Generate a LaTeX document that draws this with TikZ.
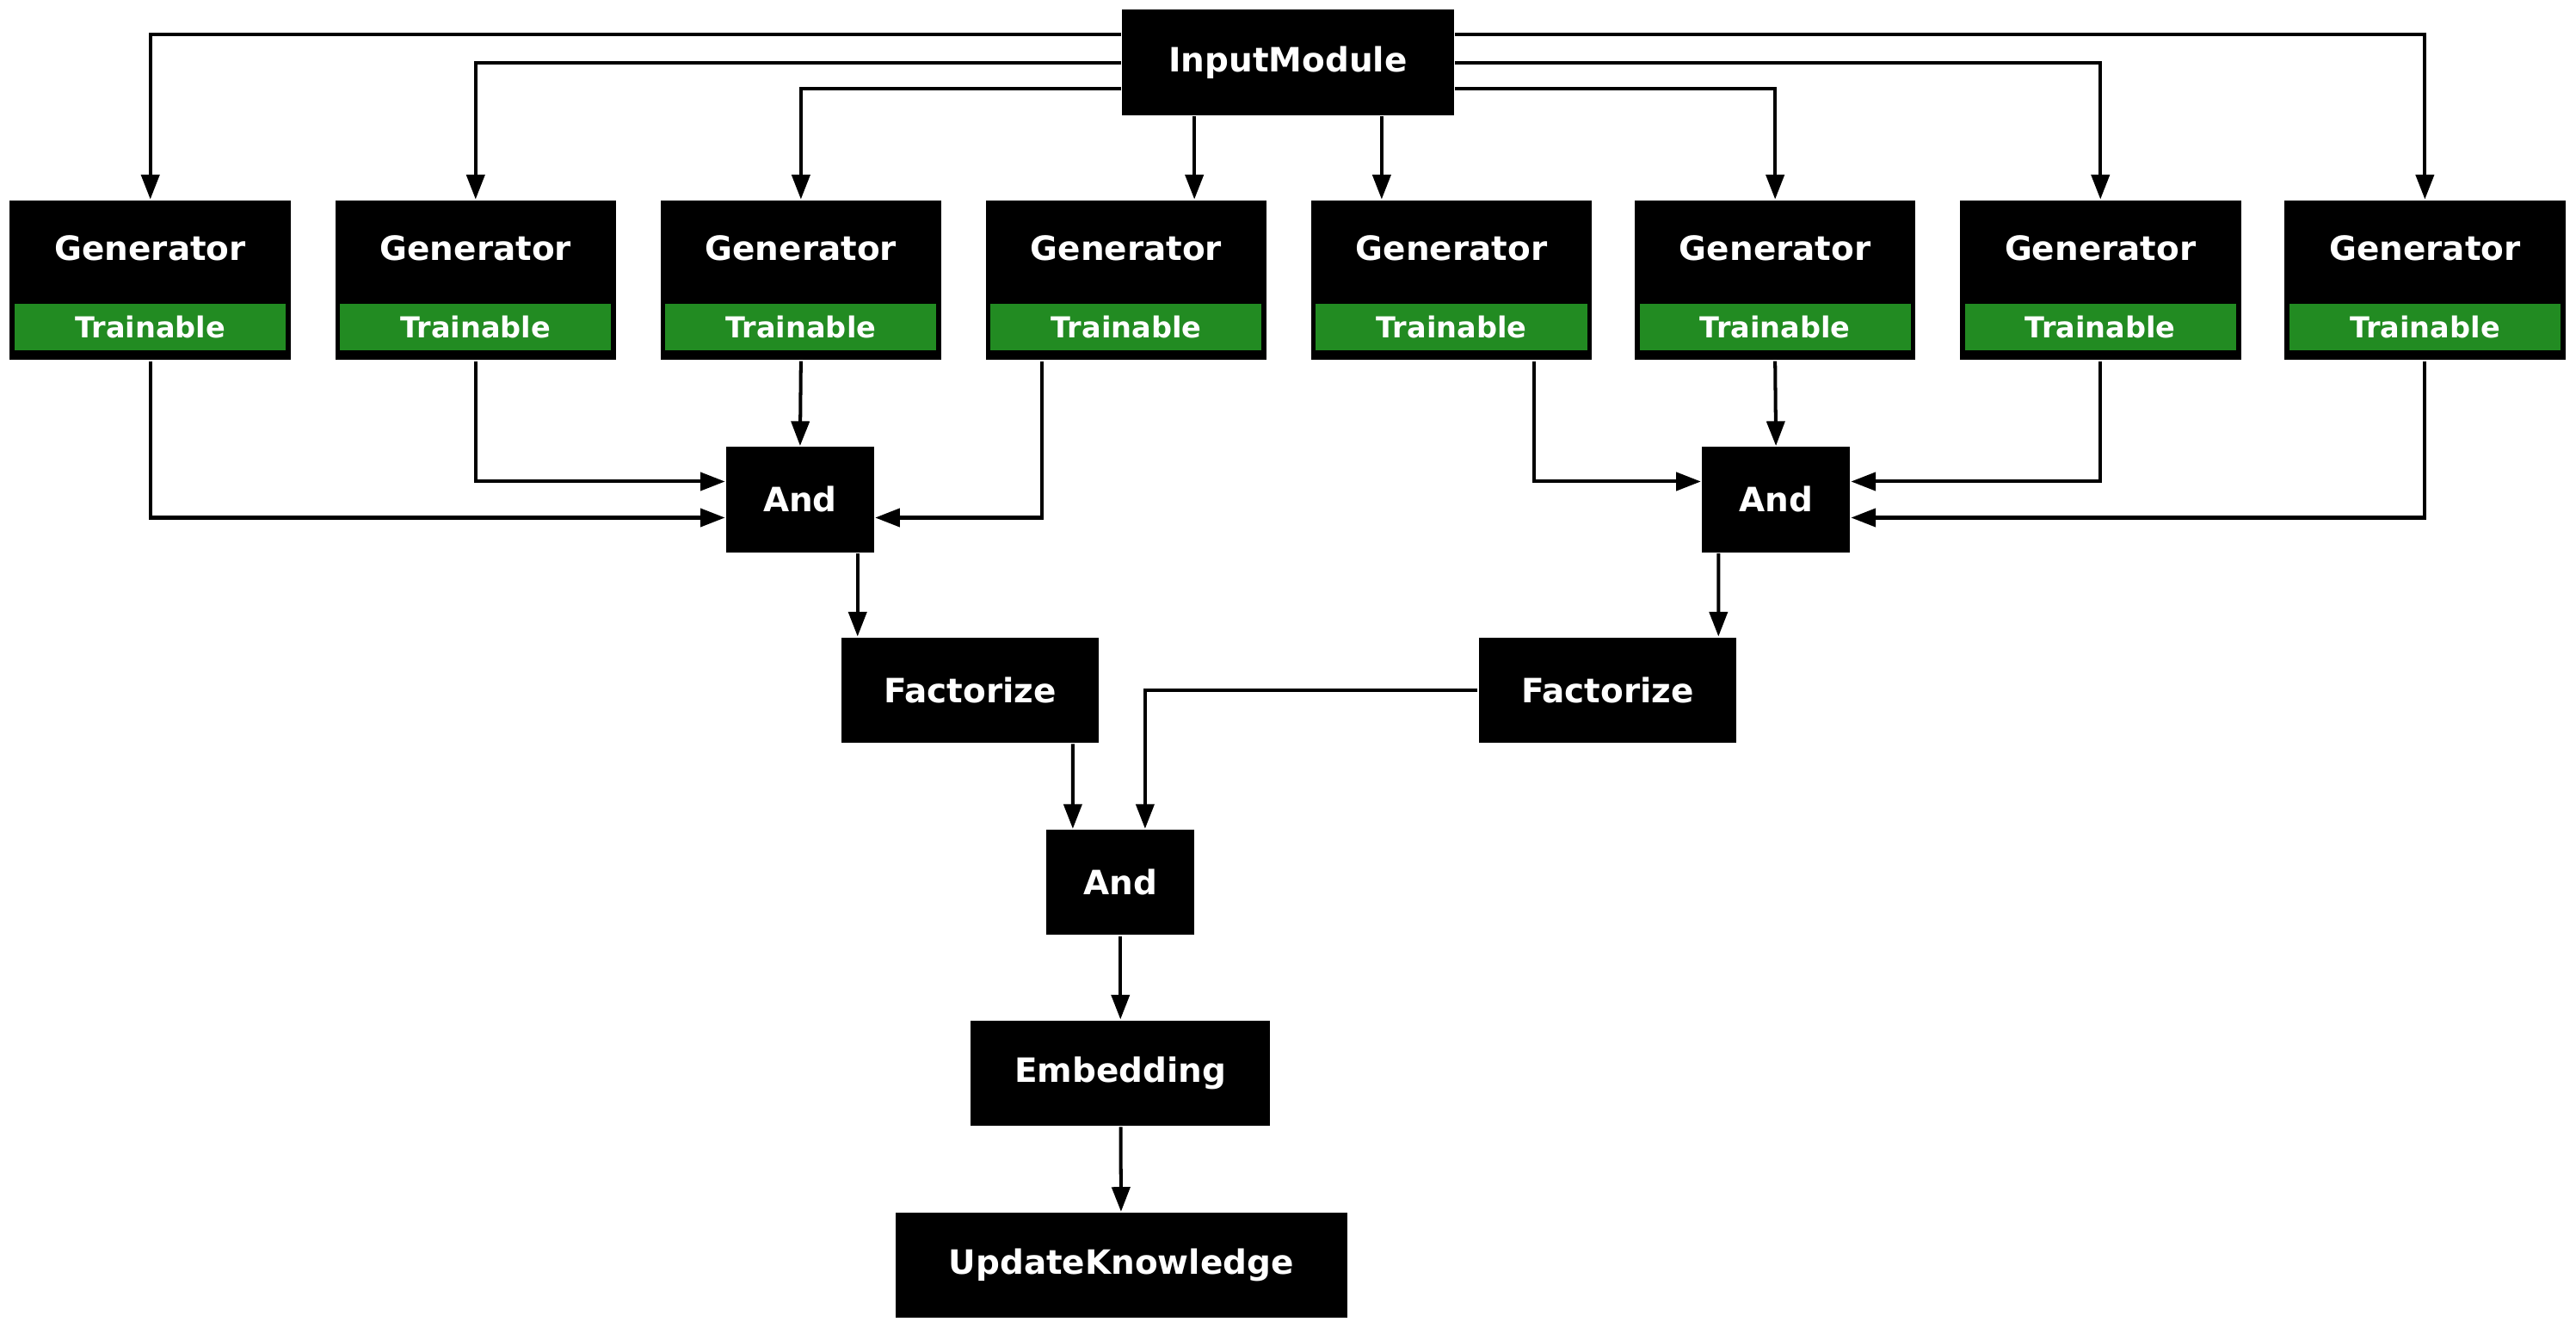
\documentclass[tikz,border=0pt]{standalone}
\usepackage{fontspec}
\setmainfont{DejaVu Sans}
\usetikzlibrary{arrows.meta,positioning}
\definecolor{trgreen}{HTML}{228B22}

\tikzset{
  box/.style={draw=none,fill=black,text=white,font=\bfseries\fontsize{5.8}{7}\selectfont,
              minimum height=0.64cm,inner sep=0pt},
  gen/.style={fill=black,minimum width=1.71cm,minimum height=0.97cm,inner sep=0pt},
  train/.style={fill=trgreen,text=white,font=\bfseries\fontsize{5}{6}\selectfont,
                minimum width=1.65cm,minimum height=0.28cm,inner sep=0pt},
  edge/.style={line width=0.6pt,-{Triangle[length=1.5mm,width=1.1mm]}}
}

\begin{document}
\begin{tikzpicture}
    \useasboundingbox (0,0) rectangle (15.68,-8.08);

    % top module
    \node[box,minimum width=2.02cm] (in) at (7.84,-0.38) {InputModule};

    % generators
    \foreach \i/\x in {1/0.915,2/2.895,3/4.875,4/6.855,5/8.835,6/10.805,7/12.785,8/14.76} {
      \node[gen] (g\i) at (\x,-1.705) {};
      \node[text=white,font=\bfseries\fontsize{5.8}{7}\selectfont] (gl\i) at (\x,-1.51) {Generator};
      \node[train] (t\i) at (\x,-1.99) {Trainable};
    }

    % combining nodes
    \node[box,minimum width=0.9cm] (a1) at (4.87,-3.04) {And};
    \node[box,minimum width=0.9cm] (a2) at (10.81,-3.04) {And};
    \node[box,minimum width=1.57cm] (f1) at (5.905,-4.2) {Factorize};
    \node[box,minimum width=1.57cm] (f2) at (9.785,-4.2) {Factorize};
    \node[box,minimum width=0.9cm] (a3) at (6.82,-5.37) {And};
    \node[box,minimum width=1.82cm] (emb) at (6.82,-6.53) {Embedding};
    \node[box,minimum width=2.75cm] (upd) at (6.825,-7.70) {UpdateKnowledge};

    % input to generators
    \draw[edge] ([yshift=0.17cm]in.west) -| (g1.north);
    \draw[edge] ([yshift=0cm]in.west) -| (g2.north);
    \draw[edge] ([yshift=-0.16cm]in.west) -| (g3.north);
    \draw[edge] ([xshift=-0.57cm]in.south) -- ([xshift=0.415cm]g4.north);
    \draw[edge] ([xshift=0.57cm]in.south) -- ([xshift=-0.425cm]g5.north);
    \draw[edge] ([yshift=-0.16cm]in.east) -| (g6.north);
    \draw[edge] ([yshift=0cm]in.east) -| (g7.north);
    \draw[edge] ([yshift=0.17cm]in.east) -| (g8.north);

    % generators to And
    \draw[edge] (g1.south) |- ([yshift=-0.11cm]a1.west);
    \draw[edge] (g2.south) |- ([yshift=0.11cm]a1.west);
    \draw[edge] (g3.south) -- (a1.north);
    \draw[edge] ([xshift=-0.515cm]g4.south) |- ([yshift=-0.11cm]a1.east);
    \draw[edge] ([xshift=0.505cm]g5.south) |- ([yshift=0.11cm]a2.west);
    \draw[edge] (g6.south) -- (a2.north);
    \draw[edge] (g7.south) |- ([yshift=0.11cm]a2.east);
    \draw[edge] (g8.south) |- ([yshift=-0.11cm]a2.east);

    % lower chain
    \draw[edge] ([xshift=0.35cm]a1.south) -- ([xshift=-0.685cm]f1.north);
    \draw[edge] ([xshift=-0.35cm]a2.south) -- ([xshift=0.675cm]f2.north);
    \draw[edge] ([xshift=0.625cm]f1.south) -- ([xshift=-0.29cm]a3.north);
    \draw[edge] (f2.west) -| ([xshift=0.15cm]a3.north);
    \draw[edge] (a3) -- (emb);
    \draw[edge] (emb) -- (upd);
\end{tikzpicture}
\end{document}
